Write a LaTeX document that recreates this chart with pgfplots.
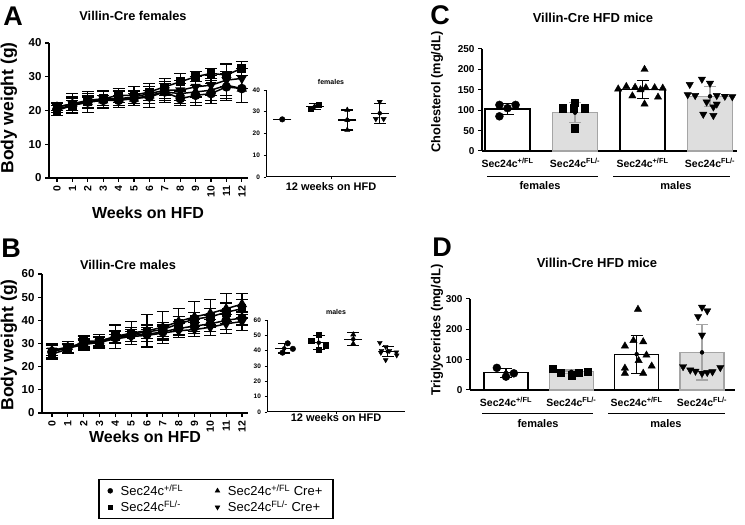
\documentclass[border=0pt]{standalone}
\usepackage{fontspec}
\setmainfont{Liberation Sans}
\usepackage{pgfplots}
\pgfplotsset{compat=1.18}

\newcommand{\fs}[1]{\fontsize{#1}{#1}\selectfont}
\newcommand{\fl}{Sec24c\textsuperscript{+/FL}}
\newcommand{\fm}{Sec24c\textsuperscript{FL/-}}
\definecolor{barfill}{RGB}{222,222,222}
\definecolor{baredge}{RGB}{165,165,165}

\pgfplotsset{
  gp/.style={scale only axis, clip=false, anchor=south west,
    axis x line*=bottom, axis y line*=left,
    axis line style={line width=1.5pt}, tick style={black, line width=1.2pt},
    tick align=outside, major tick length=4pt,
    /pgf/number format/assume math mode=true,
    tick label style={font=\bfseries\fs{11.5}}},
  ser/.style={black, line width=1.5pt, mark size=4pt,
    error bars/y dir=both, error bars/y explicit,
    error bars/error bar style={line width=1.1pt},
    error bars/error mark options={rotate=90, line width=1.1pt, mark size=6pt}},
  sd/.style={only marks, mark=none,
    error bars/y dir=both, error bars/y explicit,
    error bars/error bar style={line width=1.1pt, draw=#1},
    error bars/error mark options={rotate=90, line width=1.1pt, mark size=6pt, draw=#1}},
  sd/.default=black,
  inset/.style={gp, xmin=0.5, xmax=4.5, xtick={2.5}, xticklabels={},
    axis line style={line width=1pt}, tick style={line width=0.8pt},
    major tick length=2.5pt, tick label style={font=\bfseries\fs{6.5}}},
  bars/.style={gp, xtick={1,2,3,4}, xtick style={draw=none},
    xticklabels={\fl,\fm,\fl,\fm},
    xticklabel style={font=\bfseries\fs{10.5}},
    yticklabel style={font=\bfseries\fs{10}},
    axis line style={line width=1.2pt}, tick style={line width=1pt}},
}

\begin{document}
\begin{tikzpicture}
\path[use as bounding box] (0pt,0pt) rectangle (745pt,525pt);

% ---------- A: females body weight ----------
\begin{axis}[gp, at={(49pt,347pt)}, width=199pt, height=135pt,
  xmin=-0.52, xmax=12.4, ymin=0, ymax=40, ytick={0,10,20,30,40},
  xtick={0,...,12}, xticklabel style={rotate=90, anchor=east, font=\bfseries\fs{10.5}}]
\addplot[ser, mark=*] coordinates {
 (0,20.5)+-(0,1) (1,21.5)+-(0,1.5) (2,22.5)+-(0,1.5) (3,23)+-(0,1.5) (4,23)+-(0,1.5)
 (5,23.5)+-(0,1.5) (6,24)+-(0,2) (7,25.5)+-(0,2.5) (8,23.5)+-(0,2) (9,24.5)+-(0,3)
 (10,25)+-(0,3) (11,27)+-(0,4) (12,26.5)+-(0,4)};
\addplot[ser, mark=square*, mark size=3.6pt] coordinates {
 (0,20)+-(0,1.5) (1,21.5)+-(0,2) (2,22.5)+-(0,2) (3,23.5)+-(0,2.5) (4,24.5)+-(0,2)
 (5,24.5)+-(0,2.5) (6,25.5)+-(0,2.5) (7,27)+-(0,2.5) (8,28.5)+-(0,2.5) (9,30)+-(0,1.5)
 (10,31)+-(0,1.5) (11,30.5)+-(0,3.5) (12,32.5)+-(0,2)};
\addplot[ser, mark=triangle*, mark size=4.4pt] coordinates {
 (0,21)+-(0,1.5) (1,22)+-(0,3) (2,22.5)+-(0,3) (3,23)+-(0,2.5) (4,23.5)+-(0,2.5)
 (5,23.5)+-(0,2) (6,24.5)+-(0,3.5) (7,25.5)+-(0,3) (8,25)+-(0,3) (9,25.5)+-(0,3)
 (10,26)+-(0,3) (11,27.5)+-(0,4) (12,26.5)+-(0,4)};
\addplot[ser, mark=triangle*, mark size=4.4pt, mark options={rotate=180}] coordinates {
 (0,21)+-(0,1) (1,22)+-(0,2) (2,23)+-(0,2) (3,23.5)+-(0,2) (4,23.5)+-(0,2)
 (5,24)+-(0,2) (6,25)+-(0,2) (7,26)+-(0,2.5) (8,26)+-(0,3) (9,27)+-(0,3)
 (10,27.5)+-(0,3) (11,29)+-(0,4.5) (12,29.5)+-(0,3)};
\end{axis}

% ---------- A inset ----------
\begin{axis}[inset, at={(266pt,348pt)}, width=130pt, height=87pt,
  ymin=0, ymax=40, ytick={0,10,20,30,40}]
\addplot[only marks, mark=-, mark size=9pt, mark options={line width=1.1pt}]
  coordinates {(1,26.5) (2,32.4) (3,26.2) (4,29.3)};
\addplot[sd] coordinates {(2,32.4)+-(0,1.3) (3,26.2)+-(0,4.6) (4,29.3)+-(0,4.6)};
\addplot[only marks, mark=*, mark size=2.8pt] coordinates {(1,26.5)};
\addplot[only marks, mark=square*, mark size=2.6pt] coordinates {(1.88,31.5) (2.12,33.3)};
\addplot[only marks, mark=triangle*, mark size=3pt] coordinates {(3,30.8) (3,26.2) (3,21.6)};
\addplot[only marks, mark=triangle*, mark size=3pt, mark options={rotate=180}]
  coordinates {(4,34.6) (3.88,26.7) (4.12,26.7)};
\end{axis}

% ---------- B: males body weight ----------
\begin{axis}[gp, at={(42pt,112pt)}, width=206pt, height=139pt,
  xmin=-0.63, xmax=12.38, ymin=0, ymax=60, ytick={0,10,...,60},
  xtick={0,...,12}, xticklabel style={rotate=90, anchor=east, font=\bfseries\fs{10.5}},
  legend style={at={(axis description cs:0.845,-0.619)}, anchor=center,
    draw=black, line width=1.8pt, font=\fs{13}, cells={anchor=west},
    column sep=6pt, /tikz/every even column/.append style={column sep=30pt},
    inner xsep=9pt, inner ysep=3pt},
  legend columns=2]
\addplot[ser, mark=*, forget plot] coordinates {
 (0,26.5)+-(0,3) (1,28)+-(0,2) (2,30)+-(0,2) (3,30.5)+-(0,2) (4,32.5)+-(0,2.5)
 (5,33.5)+-(0,2.5) (6,34)+-(0,3) (7,35)+-(0,3) (8,36.5)+-(0,3) (9,37.5)+-(0,3)
 (10,38.5)+-(0,3.5) (11,40)+-(0,4) (12,41)+-(0,3)};
\addplot[ser, mark=square*, mark size=3.6pt, forget plot] coordinates {
 (0,25.5)+-(0,2.5) (1,27.5)+-(0,2) (2,31)+-(0,2.5) (3,31)+-(0,2) (4,33)+-(0,2.5)
 (5,34)+-(0,3) (6,35)+-(0,3) (7,36)+-(0,3) (8,38.5)+-(0,3) (9,40.5)+-(0,3)
 (10,41.5)+-(0,3.5) (11,43.5)+-(0,4) (12,45)+-(0,4)};
\addplot[ser, mark=triangle*, mark size=4.4pt, forget plot] coordinates {
 (0,27)+-(0,3) (1,28.5)+-(0,2.5) (2,30)+-(0,3) (3,31)+-(0,3) (4,33)+-(0,5)
 (5,34.5)+-(0,5) (6,35.5)+-(0,7) (7,37)+-(0,7) (8,39.5)+-(0,5.5) (9,41.5)+-(0,6.5)
 (10,43)+-(0,6) (11,45)+-(0,6.5) (12,47)+-(0,4.5)};
\addplot[ser, mark=triangle*, mark size=4.4pt, mark options={rotate=180}, forget plot] coordinates {
 (0,27)+-(0,2) (1,28)+-(0,2) (2,29.5)+-(0,2) (3,30.5)+-(0,2) (4,32)+-(0,2)
 (5,33)+-(0,2) (6,33.5)+-(0,2.5) (7,34.5)+-(0,3) (8,35.5)+-(0,3) (9,36)+-(0,3)
 (10,37)+-(0,3.5) (11,38.5)+-(0,4) (12,39.5)+-(0,4)};
\addlegendimage{only marks, mark=*, black, mark size=2.5pt, mark options={line width=0.4pt}}
\addlegendentry{\fl}
\addlegendimage{only marks, mark=triangle*, black, mark size=2.8pt, mark options={line width=0.4pt}}
\addlegendentry{\fl{} Cre+}
\addlegendimage{only marks, mark=square*, black, mark size=2.3pt, mark options={line width=0.4pt}}
\addlegendentry{\fm}
\addlegendimage{only marks, mark=triangle*, black, mark size=2.8pt, mark options={line width=0.4pt, rotate=180}}
\addlegendentry{\fm{} Cre+}
\end{axis}

% ---------- B inset ----------
\begin{axis}[inset, at={(267pt,113pt)}, width=138pt, height=92pt,
  ymin=0, ymax=60, ytick={0,10,...,60}]
\addplot[only marks, mark=-, mark size=9pt, mark options={line width=1.1pt}]
  coordinates {(1,41.5) (2,45.2) (3,47.5) (4,39.5)};
\addplot[sd] coordinates {(1,41.5)+-(0,3) (2,45.2)+-(0,4.4) (3,47.5)+-(0,4.2) (4,39.5)+-(0,3.4)};
\addplot[only marks, mark=*, mark size=2.8pt] coordinates {(1.1,44.8) (1.25,41.2) (0.95,38.7)};
\addplot[only marks, mark=square*, mark size=2.6pt] coordinates {(2,50.5) (1.78,46.3) (2.21,43.5) (2,40.4)};
\addplot[only marks, mark=triangle*, mark size=3pt] coordinates {(3,50.5) (3,44.5)};
\addplot[only marks, mark=triangle*, mark size=2.8pt, mark options={rotate=180}]
  coordinates {(3.77,45.2) (3.94,42.6) (3.82,40) (4.05,40) (3.8,38.7) (4.25,39) (3.94,33.9) (4.26,37)};
\end{axis}

% ---------- C: cholesterol ----------
\begin{axis}[bars, at={(482pt,374pt)}, width=255pt, height=102pt,
  xmin=0.622, xmax=4.4, ymin=0, ymax=250, ytick={0,50,...,250}]
\addplot[ybar, bar width=45pt, bar shift=0pt, fill=white, draw=black, line width=1.4pt]
  coordinates {(1,103) (3,151)};
\addplot[ybar, bar width=45pt, bar shift=0pt, fill=barfill, draw=baredge, line width=1.4pt]
  coordinates {(2,94) (4,134)};
\addplot[sd] coordinates {(1,103)+-(0,14) (3,151)+-(0,22)};
\addplot[sd=baredge] coordinates {(2,94)+-(0,24) (4,134)+-(0,24)};
\addplot[only marks, mark=*, mark size=4pt] coordinates {(0.88,113) (1.12,113) (1.0,105) (0.88,85)};
\addplot[only marks, mark=square*, mark size=3.6pt] coordinates {(2,118) (1.82,105) (1.98,105) (2.14,105) (2,56)};
\addplot[only marks, mark=triangle*, mark size=4.2pt] coordinates {
 (3.03,200) (2.76,158) (2.89,156) (3.05,155) (3.18,155) (3.3,154) (2.64,152) (2.97,150)
 (2.85,135) (3.23,132) (3.03,115)};
\addplot[only marks, mark=triangle*, mark size=4.2pt, mark options={rotate=180}] coordinates {
 (3.88,176) (4.0,166) (3.7,163) (3.67,138) (3.78,136) (4.1,136) (4.22,134) (4.33,133)
 (3.95,120) (4.1,115) (4.05,108) (3.9,90) (4.05,87)};
\end{axis}

% ---------- D: triglycerides ----------
\begin{axis}[bars, at={(470pt,135pt)}, width=265pt, height=91pt,
  xmin=0.449, xmax=4.505, ymin=0, ymax=300, ytick={0,100,200,300}]
\addplot[ybar, bar width=44pt, bar shift=0pt, fill=white, draw=black, line width=1.4pt]
  coordinates {(1,57) (3,118)};
\addplot[ybar, bar width=44pt, bar shift=0pt, fill=barfill, draw=baredge, line width=1.4pt]
  coordinates {(2,60) (4,124)};
\addplot[sd] coordinates {(1,57)+-(0,15) (3,118)+-(0,63)};
\addplot[sd=baredge] coordinates {(2,60)+-(0,6) (4,124)+-(0,91)};
\addplot[only marks, mark=*, mark size=4pt] coordinates {(0.86,73) (1.0,44) (1.12,55)};
\addplot[only marks, mark=square*, mark size=3.6pt] coordinates {(1.71,69) (1.84,58) (2.0,49) (2.11,58) (2.25,60)};
\addplot[only marks, mark=triangle*, mark size=4.2pt] coordinates {
 (3.02,266) (2.95,163) (2.82,145) (3.1,159) (3.15,115) (3.03,97) (2.82,72) (3.23,79)
 (2.82,55) (3.1,55)};
\addplot[only marks, mark=triangle*, mark size=4.2pt, mark options={rotate=180}] coordinates {
 (4.0,273) (4.08,261) (3.94,242) (4.0,181) (3.71,77) (3.82,66) (3.9,62) (4.0,55)
 (4.08,58) (4.16,60) (4.28,74)};
\end{axis}

% ---------- text ----------
\node[font=\bfseries\fs{27}] at (13pt,509pt) {A};
\node[font=\bfseries\fs{12.8}] at (133pt,509pt) {Villin-Cre females};
\node[font=\bfseries\fs{17.5}, rotate=90] at (9pt,417pt) {Body weight (g)};
\node[font=\bfseries\fs{16}] at (148pt,312pt) {Weeks on HFD};
\node[font=\bfseries\fs{7}] at (331pt,443pt) {females};
\node[font=\bfseries\fs{11}] at (331pt,338pt) {12 weeks on HFD};

\node[font=\bfseries\fs{27}] at (11pt,277pt) {B};
\node[font=\bfseries\fs{12.8}] at (128pt,260pt) {Villin-Cre males};
\node[font=\bfseries\fs{17.5}, rotate=90] at (9pt,180pt) {Body weight (g)};
\node[font=\bfseries\fs{16}] at (145pt,88pt) {Weeks on HFD};
\node[font=\bfseries\fs{7}] at (336pt,213pt) {males};
\node[font=\bfseries\fs{11}] at (336pt,107pt) {12 weeks on HFD};

\node[font=\bfseries\fs{27}] at (440pt,510pt) {C};
\node[font=\bfseries\fs{13}] at (593pt,507pt) {Villin-Cre HFD mice};
\node[font=\bfseries\fs{12.8}, rotate=90] at (437pt,433pt) {Cholesterol (mg/dL)};
\draw[line width=0.9pt] (487pt,349pt) -- (598pt,349pt);
\draw[line width=0.9pt] (613pt,349pt) -- (730pt,349pt);
\node[font=\bfseries\fs{11}] at (540pt,339pt) {females};
\node[font=\bfseries\fs{11}] at (676pt,339pt) {males};

\node[font=\bfseries\fs{27}] at (442pt,278pt) {D};
\node[font=\bfseries\fs{13}] at (597pt,262pt) {Villin-Cre HFD mice};
\node[font=\bfseries\fs{13}, rotate=90] at (437pt,195pt) {Triglycerides (mg/dL)};
\draw[line width=0.9pt] (482pt,112pt) -- (593pt,112pt);
\draw[line width=0.9pt] (608pt,112pt) -- (725pt,112pt);
\node[font=\bfseries\fs{11}] at (538pt,101pt) {females};
\node[font=\bfseries\fs{11}] at (666pt,101pt) {males};
\end{tikzpicture}
\end{document}
